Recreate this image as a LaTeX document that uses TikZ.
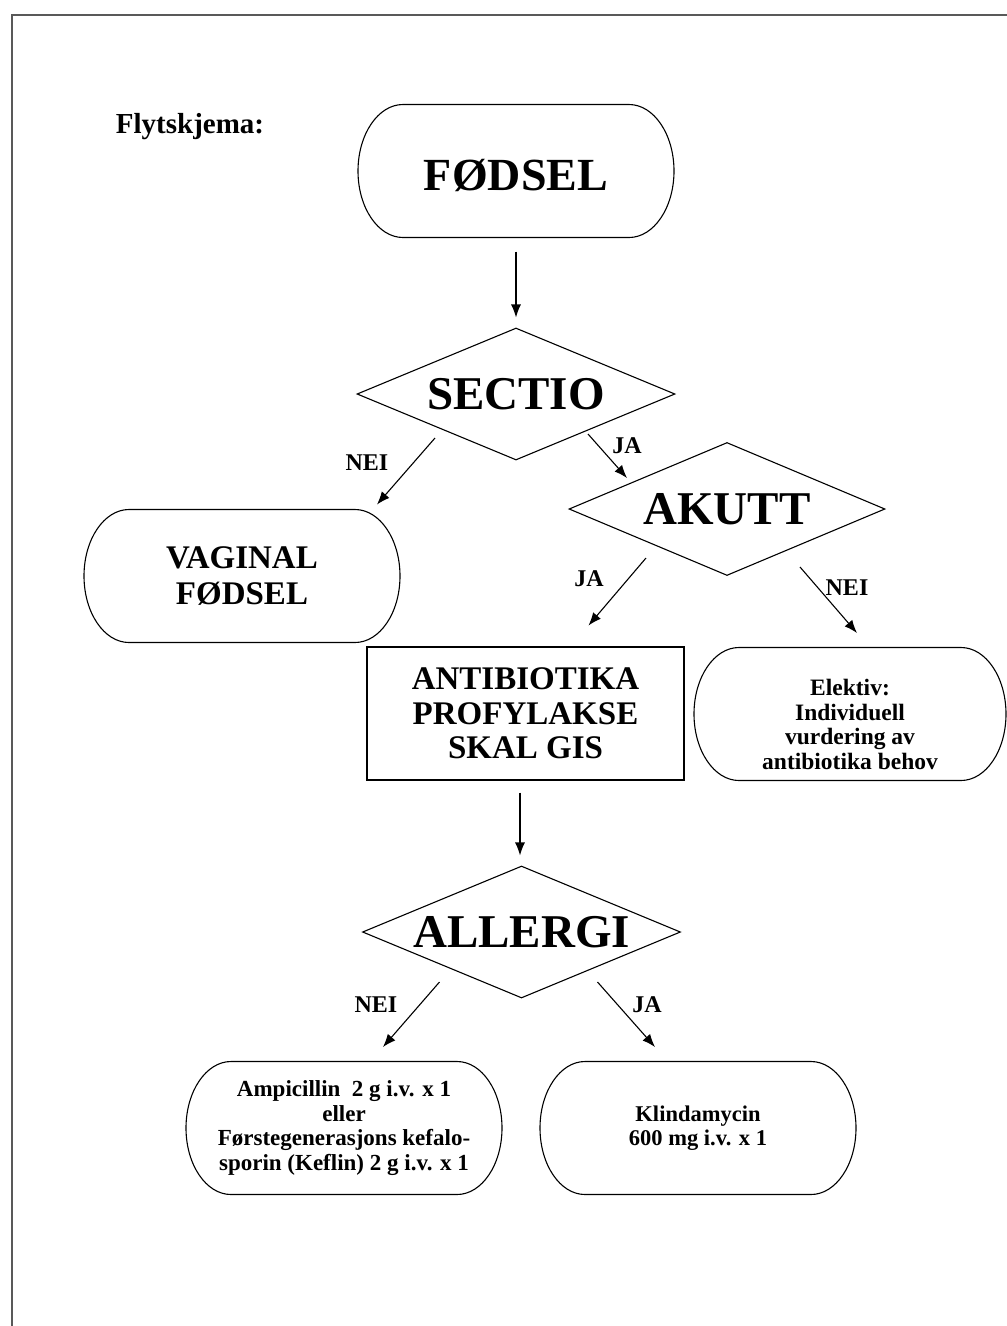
\documentclass[tikz,border=0pt]{standalone}
\usepackage{fontspec}
\setmainfont{Liberation Serif}
\usepackage{tikz}
\usetikzlibrary{arrows.meta,shapes.geometric,calc}
\tikzset{
  term/.style={minimum width=316pt, minimum height=133pt, inner sep=0pt, outer sep=0pt,
               align=center, font=\bfseries},
  choice/.style={draw, diamond, aspect=2.4, minimum width=318pt, minimum height=132pt,
                 inner sep=0pt, font=\fontsize{47}{50}\selectfont\bfseries},
  action/.style={draw, rectangle, minimum width=317pt, minimum height=133pt, inner sep=0pt,
                 align=center, font=\fontsize{33}{34.5}\selectfont\bfseries},
  lbl/.style={font=\fontsize{24}{26}\selectfont\bfseries},
}
\newcommand{\rx}{45pt}
\newcommand{\ry}{66.5pt}
\begin{document}
\begin{tikzpicture}[x=1pt, y=1pt, line width=1.1pt, >={Latex[length=13pt,width=10pt]}]
    \useasboundingbox (0,0) rectangle (1007,-1326);
    \draw[gray!70!black] (12,-1326) -- (12,-15) -- (1007,-15);
    \node[font=\fontsize{29}{32}\selectfont\bfseries] (title) at (190,-127) {Flytskjema:};
    % terminal boxes
    \node[term, font=\fontsize{46}{50}\selectfont\bfseries] (start) at (516,-171) {\rule{0pt}{40pt}FØDSEL};
    \node[term, font=\fontsize{33}{36}\selectfont\bfseries] (vag) at (242,-576) {VAGINAL\\FØDSEL};
    \node[term, minimum width=312pt, font=\fontsize{23.5}{24.5}\selectfont\bfseries] (elek) at (850,-714)
      {\rule{0pt}{37pt}Elektiv:\\Individuell\\vurdering av\\antibiotika behov};
    \node[term, font=\fontsize{23}{24.5}\selectfont\bfseries] (amp) at (344,-1128)
      {Ampicillin\ \ 2 g i.v. x 1\\eller\\Førstegenerasjons kefalo-\\sporin (Keflin) 2 g i.v. x 1};
    \node[term, font=\fontsize{22.5}{24}\selectfont\bfseries] (klin) at (698,-1128) {Klindamycin\\600 mg i.v. x 1};
    \foreach \n in {start,vag,elek,amp,klin}
      \draw ([xshift=\rx]\n.north west) -- ([xshift=-\rx]\n.north east)
        arc[start angle=90, end angle=-90, x radius=\rx, y radius=\ry]
        -- ([xshift=\rx]\n.south west)
        arc[start angle=270, end angle=90, x radius=\rx, y radius=\ry] -- cycle;
    % decisions
    \node[choice] (sectio) at (516,-394) {SECTIO};
    \node[choice, aspect=2.38, minimum width=316pt, minimum height=133pt] (akutt) at (727,-509) {AKUTT};
    \node[action] (anti) at (525.5,-713.5) {ANTIBIOTIKA\\PROFYLAKSE\\SKAL GIS};
    \node[choice] (allergi) at (521.5,-932) {ALLERGI};
    % arrow ends
    \coordinate (sv1) at ([shift={(-81,-44)}]sectio.center);
    \coordinate (sv2) at ([shift={(-23,5)}]vag.north east);
    \coordinate (sa1) at ([shift={(72,-40)}]sectio.center);
    \coordinate (sa2) at ([shift={(-100,31)}]akutt.center);
    \coordinate (ap1) at ([shift={(-81,-49)}]akutt.center);
    \coordinate (ap2) at ([shift={(63,88)}]anti.center);
    \coordinate (ae1) at ([shift={(73,-58)}]akutt.center);
    \coordinate (ae2) at ([shift={(7,81)}]elek.center);
    \coordinate (lm1) at ([shift={(-82,-50)}]allergi.center);
    \coordinate (lm2) at ([shift={(39,81)}]amp.center);
    \coordinate (lk1) at ([shift={(76,-50)}]allergi.center);
    \coordinate (lk2) at ([shift={(-43,81)}]klin.center);
    \draw[->] ([yshift=-14]start.south) -- ([yshift=10]sectio.north);
    \draw[->] (sv1) -- (sv2);
    \draw[->] (sa1) -- (sa2);
    \draw[->] (ap1) -- (ap2);
    \draw[->] (ae1) -- (ae2);
    \draw[->] ([xshift=-5.5,yshift=-12]anti.south) -- ([xshift=-1.5,yshift=10]allergi.north);
    \draw[->] (lm1) -- (lm2);
    \draw[->] (lk1) -- (lk2);
    % labels
    \node[lbl] (l1) at (367,-463) {NEI};
    \node[lbl] (l2) at (627,-446) {JA};
    \node[lbl] (l3) at (589,-579) {JA};
    \node[lbl] (l4) at (847,-588) {NEI};
    \node[lbl] (l5) at (376,-1005) {NEI};
    \node[lbl] (l6) at (647,-1005) {JA};
\end{tikzpicture}
\end{document}
